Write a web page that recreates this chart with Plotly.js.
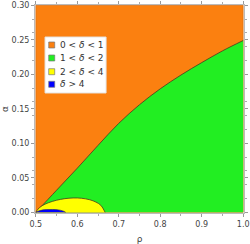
<!DOCTYPE html>
<html><head><meta charset="utf-8">
<script src="https://cdn.plot.ly/plotly-3.0.1.min.js"></script>
<style>html,body{margin:0;padding:0;background:#fff}#c{width:250px;height:244px}</style>
</head><body><div id="c"></div>
<script>
// region boundaries
const rhoGreen = [0.5, 0.55, 0.6, 0.65, 0.7, 0.75, 0.8, 0.85, 0.9, 0.95, 1.0];
const alphaGreen = [0, 0.032, 0.064, 0.097, 0.129, 0.156, 0.179, 0.199, 0.217, 0.234, 0.249];
const rhoYellow = [0.5, 0.505, 0.515, 0.53, 0.55, 0.57, 0.59, 0.61, 0.63, 0.645, 0.657, 0.667];
const alphaYellow = [0, 0.0045, 0.0095, 0.0138, 0.0175, 0.0198, 0.0208, 0.0204, 0.0182, 0.0148, 0.0100, 0];
const rhoBlue = [0.5, 0.51, 0.525, 0.54, 0.555, 0.565, 0.572];
const alphaBlue = [0, 0.0026, 0.0039, 0.0041, 0.0035, 0.002, 0];
const rhoRange = [0.5, 1.0];
const alphaRange = [0, 0.3];
const labels = ['0 < <i>δ</i> < 1', '1 < <i>δ</i> < 2', '2 < <i>δ</i> < 4', '<i>δ</i> > 4'];
const colors = ['#fb8010', '#22ee22', '#ffff00', '#0000ff'];

const edge = '#4a3a20';
const traces = [
  {x:[rhoRange[0],rhoRange[1],rhoRange[1],rhoRange[0],rhoRange[0]], y:[alphaRange[0],alphaRange[0],alphaRange[1],alphaRange[1],alphaRange[0]],
   fill:'toself', fillcolor:colors[0], mode:'lines', line:{color:'#c86410', width:0.6}, hoverinfo:'skip'},
  {x:rhoGreen, y:alphaGreen, fill:'tozeroy', fillcolor:colors[1], mode:'lines', line:{color:edge, width:0.8, shape:'spline', smoothing:1}, hoverinfo:'skip'},
  {x:rhoYellow, y:alphaYellow, fill:'toself', fillcolor:colors[2], mode:'lines', line:{color:edge, width:0.8, shape:'spline'}, hoverinfo:'skip'},
  {x:rhoBlue, y:alphaBlue, fill:'toself', fillcolor:colors[3], mode:'lines', line:{color:'#202060', width:0.6, shape:'spline'}, hoverinfo:'skip'}
];

// manual legend (paper coordinates)
const shapes = [{type:'rect', xref:'paper', yref:'paper', x0:0.048, x1:0.340, y0:0.577, y1:0.846,
  fillcolor:'#ffffff', line:{color:'#e4e4e4', width:1}}];
const annotations = [];
const rowY = [0.8077, 0.7452, 0.6793, 0.6188];
labels.forEach((t,i)=>{
  shapes.push({type:'rect', xref:'paper', yref:'paper', x0:0.0656, x1:0.0943, y0:rowY[i]-0.0144, y1:rowY[i]+0.0144,
    fillcolor:colors[i], line:{color:'#777', width:0.7}});
  annotations.push({xref:'paper', yref:'paper', x:0.112, y:rowY[i], xanchor:'left', yanchor:'middle', showarrow:false,
    text:t, font:{family:'DejaVu Sans', size:9, color:'#333'}});
});

const ax = {showline:true, linecolor:'#bbbbbb', linewidth:1, mirror:'ticks', ticks:'outside', ticklen:3, tickcolor:'#999',
  showgrid:false, zeroline:false, tickfont:{family:'DejaVu Sans', size:8, color:'#444'},
  minor:{ticks:'outside', ticklen:2, tickcolor:'#aaa', nticks:5}};
const layout = {
  width:250, height:244, margin:{l:35, r:6, t:5, b:31},
  paper_bgcolor:'#fff', plot_bgcolor:'#fff', showlegend:false,
  xaxis:Object.assign({}, ax, {range:[0.498, 1.002], tickvals:[0.5,0.6,0.7,0.8,0.9,1.0], ticktext:['0.5','0.6','0.7','0.8','0.9','1.0'],
    title:{text:'ρ', font:{family:'DejaVu Sans', size:9, color:'#444'}, standoff:8}}),
  yaxis:Object.assign({}, ax, {range:[-0.001, 0.3005], tickvals:[0,0.05,0.1,0.15,0.2,0.25,0.3], ticktext:['0.00','0.05','0.10','0.15','0.20','0.25','0.30'],
    title:{text:'α', font:{family:'DejaVu Sans', size:9, color:'#444'}, standoff:8}}),
  shapes:shapes, annotations:annotations
};
Plotly.newPlot('c', traces, layout, {displayModeBar:false, staticPlot:true});
</script></body></html>
